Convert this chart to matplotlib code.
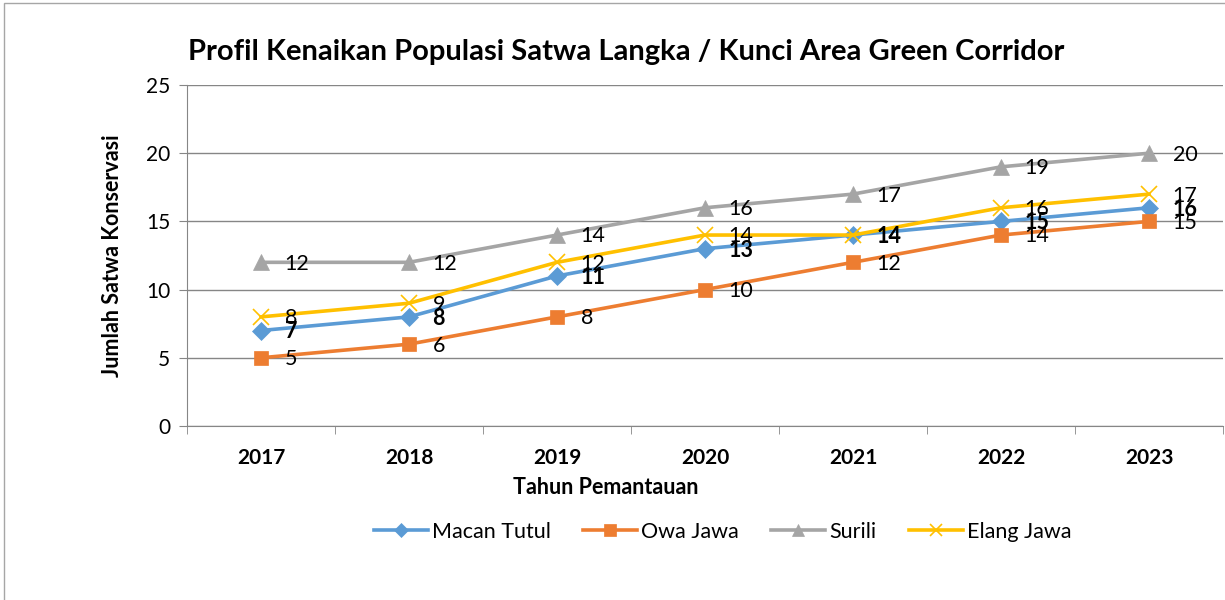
import matplotlib
matplotlib.use('Agg')
import matplotlib.pyplot as plt
from matplotlib.patches import Rectangle

plt.rcParams['font.family'] = ['Lato', 'DejaVu Sans']

# Data
tahun = ['2017', '2018', '2019', '2020', '2021', '2022', '2023']
macan_tutul = [7, 8, 11, 13, 14, 15, 16]
owa_jawa = [5, 6, 8, 10, 12, 14, 15]
surili = [12, 12, 14, 16, 17, 19, 20]
elang_jawa = [8, 9, 12, 14, 14, 16, 17]

series = [
    ('Macan Tutul', macan_tutul, '#5B9BD5', 'D', 9, 'bold'),
    ('Owa Jawa', owa_jawa, '#ED7D31', 's', 10, 'normal'),
    ('Surili', surili, '#A5A5A5', '^', 11, 'normal'),
    ('Elang Jawa', elang_jawa, '#FFC000', 'x', 11, 'normal'),
]

fig = plt.figure(figsize=(12.25, 6), dpi=100)
ax = fig.add_axes([187 / 1225, 1 - 426 / 600, 1036 / 1225, 341 / 600])

x = list(range(len(tahun)))
for name, vals, col, mk, ms, fw in series:
    ax.plot(x, vals, color=col, lw=2.6, marker=mk, markersize=ms,
            markeredgewidth=1.2 if mk == 'x' else 0.5, label=name, zorder=3)

# label data di kanan tiap titik
for name, vals, col, mk, ms, fw in series:
    for xi, v in zip(x, vals):
        ax.annotate(str(v), (xi, v), xytext=(17, -1), textcoords='offset points',
                    ha='left', va='center', fontsize=15.5, fontweight=fw, zorder=5)

ax.set_xlim(-0.5, len(tahun) - 0.5)
ax.set_ylim(0, 25)
ax.set_yticks(range(0, 26, 5))
ax.set_xticks(x)
ax.set_xticklabels(tahun, fontsize=15, fontweight='bold')
ax.set_xticks([i - 0.5 for i in range(len(tahun) + 1)], minor=True)
ax.tick_params(axis='x', which='major', length=0, pad=16)
ax.tick_params(axis='x', which='minor', length=6, color='#868686', direction='out')
ax.tick_params(axis='y', length=6, color='#868686', labelsize=15, pad=6)
ax.grid(axis='y', color='#868686', lw=1)
ax.set_axisbelow(True)
for s in ['top', 'right']:
    ax.spines[s].set_visible(False)
ax.spines['left'].set_color('#868686')
ax.spines['bottom'].set_color('#868686')

ax.set_xlabel('Tahun Pemantauan', fontsize=15.5, fontweight='bold')
ax.xaxis.set_label_coords(0.404, -0.15)
ax.set_ylabel('Jumlah Satwa Konservasi', fontsize=15.5, fontweight='bold')
ax.yaxis.set_label_coords(-0.062, 0.5)

fig.text(0.511, 0.913, 'Profil Kenaikan Populasi Satwa Langka / Kunci Area Green Corridor',
         ha='center', va='center', fontsize=21, fontweight='bold')

fig.legend(loc='center', bbox_to_anchor=(0.59, 1 - 532 / 600), ncol=4, frameon=False,
           fontsize=15.5, handlelength=2.5, columnspacing=1.5, handletextpad=0.2,
           markerscale=0.8)

fig.patches.append(Rectangle((4 / 1225, -0.1), 1.2, 1 - 3 / 600 + 0.1,
                             transform=fig.transFigure, fill=False,
                             edgecolor='#A6A6A6', lw=1))

fig.savefig('out.png', dpi=100)
